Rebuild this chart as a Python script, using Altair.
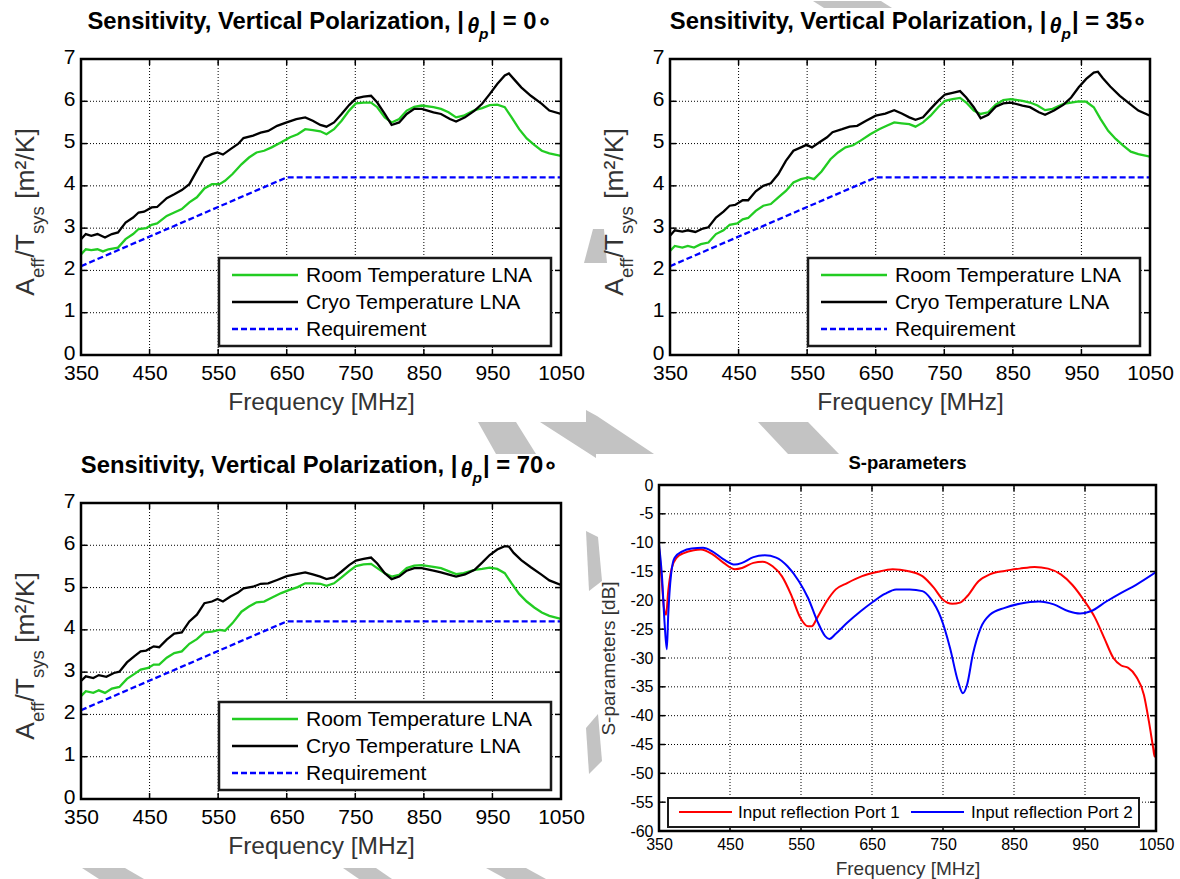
import altair as alt
import pandas as pd

FONT = "Liberation Sans"
TITLE_COLOR = "#333333"

# ---------------- data ----------------
FREQ_TICKS = [350, 450, 550, 650, 750, 850, 950, 1050]
SENS_TICKS = [0, 1, 2, 3, 4, 5, 6, 7]
SP_TICKS = [-60, -55, -50, -45, -40, -35, -30, -25, -20, -15, -10, -5, 0]

SENS_NAMES = ["Room Temperature LNA", "Cryo Temperature LNA", "Requirement"]
SENS_COLORS = ["#22cc22", "#000000", "#0000ff"]
SP_NAMES = ["Input reflection Port 1", "Input reflection Port 2"]
SP_COLORS = ["#ff0000", "#0000ff"]

REQUIREMENT = [(350, 2.1), (650, 4.2), (1050, 4.2)]

ROOM_0 = [(350, 2.38), (357, 2.50), (365, 2.48), (374, 2.50), (382, 2.45), (390, 2.50), (404, 2.54),
          (415, 2.74), (426, 2.86), (434, 2.98), (445, 3.00), (453, 3.08), (461, 3.11), (475, 3.29),
          (486, 3.37), (497, 3.45), (508, 3.61), (519, 3.73), (530, 3.94), (541, 4.04), (552, 4.04),
          (560, 4.12), (571, 4.28), (584, 4.51), (595, 4.67), (606, 4.79), (617, 4.83), (628, 4.91),
          (642, 5.03), (655, 5.15), (666, 5.22), (677, 5.34), (688, 5.32), (699, 5.29), (708, 5.22),
          (719, 5.34), (730, 5.54), (741, 5.78), (751, 5.95), (762, 5.97), (773, 5.97), (782, 5.86),
          (793, 5.62), (803, 5.50), (814, 5.58), (825, 5.78), (836, 5.87), (847, 5.90), (864, 5.86),
          (875, 5.82), (886, 5.74), (897, 5.62), (908, 5.66), (924, 5.79), (935, 5.84), (946, 5.91),
          (957, 5.92), (968, 5.86), (978, 5.62), (989, 5.34), (1000, 5.12), (1011, 4.97), (1022, 4.83),
          (1033, 4.77), (1050, 4.71)]
CRYO_0 = [(350, 2.74), (357, 2.86), (365, 2.82), (374, 2.86), (385, 2.78), (395, 2.86), (404, 2.90),
          (415, 3.13), (426, 3.25), (434, 3.37), (442, 3.39), (453, 3.49), (461, 3.50), (475, 3.71),
          (486, 3.80), (497, 3.90), (508, 4.04), (519, 4.36), (530, 4.67), (541, 4.75), (549, 4.79),
          (557, 4.74), (568, 4.87), (579, 4.99), (587, 5.13), (601, 5.19), (612, 5.26), (623, 5.30),
          (636, 5.42), (650, 5.50), (664, 5.58), (677, 5.62), (688, 5.54), (699, 5.44), (708, 5.40),
          (719, 5.50), (730, 5.70), (741, 5.91), (751, 6.07), (762, 6.11), (773, 6.13), (782, 5.97),
          (793, 5.70), (803, 5.44), (814, 5.50), (825, 5.70), (836, 5.82), (847, 5.82), (864, 5.74),
          (875, 5.70), (888, 5.58), (897, 5.52), (910, 5.62), (924, 5.78), (935, 5.94), (946, 6.17),
          (957, 6.41), (968, 6.61), (974, 6.66), (981, 6.53), (992, 6.33), (1006, 6.13), (1022, 5.94),
          (1033, 5.78), (1050, 5.70)]

ROOM_35 = [(350, 2.46), (357, 2.58), (368, 2.54), (376, 2.58), (385, 2.54), (395, 2.62), (406, 2.66),
           (417, 2.86), (428, 2.95), (437, 3.08), (448, 3.11), (456, 3.21), (464, 3.24), (475, 3.41),
           (486, 3.53), (497, 3.57), (508, 3.73), (519, 3.88), (530, 4.08), (541, 4.16), (552, 4.20),
           (560, 4.16), (571, 4.34), (584, 4.63), (595, 4.79), (606, 4.91), (617, 4.96), (628, 5.07),
           (642, 5.22), (655, 5.34), (666, 5.42), (677, 5.50), (688, 5.48), (699, 5.46), (708, 5.40),
           (719, 5.50), (730, 5.66), (741, 5.86), (751, 6.01), (762, 6.05), (773, 6.08), (782, 5.97),
           (793, 5.78), (803, 5.70), (814, 5.74), (825, 5.92), (836, 6.03), (847, 6.05), (864, 6.01),
           (875, 5.97), (886, 5.90), (897, 5.79), (908, 5.82), (924, 5.94), (935, 5.97), (946, 6.00),
           (957, 5.99), (968, 5.86), (978, 5.58), (989, 5.30), (1000, 5.11), (1011, 4.95), (1022, 4.81),
           (1033, 4.75), (1050, 4.69)]
CRYO_35 = [(350, 2.82), (357, 2.95), (368, 2.92), (376, 2.95), (387, 2.91), (398, 2.99), (406, 3.02),
           (417, 3.25), (428, 3.39), (437, 3.53), (445, 3.55), (456, 3.66), (464, 3.66), (475, 3.87),
           (486, 4.00), (497, 4.06), (508, 4.28), (519, 4.59), (530, 4.83), (541, 4.91), (549, 4.97),
           (557, 4.91), (568, 5.03), (579, 5.15), (587, 5.27), (601, 5.34), (612, 5.40), (623, 5.42),
           (636, 5.54), (650, 5.66), (664, 5.71), (677, 5.79), (688, 5.71), (699, 5.62), (708, 5.56),
           (719, 5.62), (730, 5.82), (741, 6.01), (751, 6.16), (762, 6.20), (773, 6.24), (782, 6.09),
           (793, 5.86), (803, 5.60), (814, 5.68), (825, 5.87), (836, 5.95), (847, 5.97), (864, 5.90),
           (875, 5.86), (888, 5.74), (897, 5.68), (910, 5.78), (924, 5.92), (935, 6.09), (946, 6.33),
           (957, 6.53), (968, 6.68), (974, 6.70), (981, 6.55), (992, 6.35), (1006, 6.13), (1022, 5.92),
           (1033, 5.78), (1050, 5.66)]

ROOM_70 = [(350, 2.43), (357, 2.55), (368, 2.51), (376, 2.57), (385, 2.51), (395, 2.61), (406, 2.65),
           (417, 2.84), (428, 2.96), (437, 3.06), (448, 3.10), (456, 3.18), (464, 3.18), (475, 3.34),
           (486, 3.45), (497, 3.49), (508, 3.67), (519, 3.78), (530, 3.94), (541, 3.96), (552, 4.00),
           (560, 3.98), (571, 4.16), (584, 4.43), (595, 4.55), (606, 4.65), (617, 4.67), (628, 4.76),
           (642, 4.87), (655, 4.95), (666, 5.01), (677, 5.10), (688, 5.10), (699, 5.09), (708, 5.04),
           (719, 5.10), (730, 5.24), (741, 5.39), (751, 5.51), (762, 5.55), (773, 5.56), (782, 5.46),
           (793, 5.34), (803, 5.26), (814, 5.30), (825, 5.46), (836, 5.52), (847, 5.53), (864, 5.49),
           (875, 5.46), (886, 5.39), (897, 5.32), (908, 5.34), (924, 5.42), (935, 5.44), (946, 5.47),
           (957, 5.44), (968, 5.34), (978, 5.10), (989, 4.85), (1000, 4.67), (1011, 4.53), (1022, 4.41),
           (1033, 4.33), (1050, 4.26)]
CRYO_70 = [(350, 2.79), (357, 2.90), (368, 2.86), (376, 2.93), (387, 2.89), (398, 2.98), (406, 3.01),
           (417, 3.23), (428, 3.38), (437, 3.49), (445, 3.51), (456, 3.61), (464, 3.59), (475, 3.77),
           (486, 3.91), (497, 3.94), (508, 4.20), (519, 4.36), (530, 4.63), (541, 4.67), (549, 4.73),
           (557, 4.67), (568, 4.79), (579, 4.88), (587, 4.98), (601, 5.02), (612, 5.09), (623, 5.10),
           (636, 5.18), (650, 5.27), (664, 5.32), (677, 5.36), (688, 5.31), (699, 5.26), (708, 5.20),
           (719, 5.24), (730, 5.38), (741, 5.53), (751, 5.64), (762, 5.68), (773, 5.71), (782, 5.57),
           (793, 5.34), (803, 5.20), (814, 5.26), (825, 5.40), (836, 5.46), (847, 5.46), (864, 5.40),
           (875, 5.36), (888, 5.30), (897, 5.26), (910, 5.31), (924, 5.42), (935, 5.59), (946, 5.77),
           (957, 5.90), (968, 5.98), (974, 5.97), (981, 5.82), (992, 5.65), (1006, 5.48), (1022, 5.30),
           (1033, 5.17), (1050, 5.06)]

PORT_1 = [(350, -10.9), (354, -16.7), (357, -21.3), (360, -22.5), (363, -18.4), (368, -14.4),
          (375, -12.6), (385, -11.8), (399, -11.3), (409, -11.2), (425, -12.0), (441, -13.5),
          (457, -14.6), (467, -14.4), (483, -13.5), (496, -13.3), (510, -14.1), (523, -15.8),
          (536, -19.0), (549, -23.0), (560, -24.5), (565, -24.5), (573, -23.0), (586, -20.2),
          (599, -18.1), (615, -17.0), (636, -15.8), (657, -15.1), (679, -14.6), (700, -14.9),
          (721, -15.8), (737, -17.8), (750, -19.9), (763, -20.6), (774, -20.4), (784, -19.3),
          (800, -16.7), (816, -15.5), (837, -14.9), (858, -14.5), (879, -14.2), (898, -14.5),
          (916, -15.5), (932, -17.3), (948, -19.9), (964, -23.0), (977, -26.5), (990, -30.0),
          (1001, -31.3), (1011, -31.7), (1022, -33.2), (1033, -36.4), (1040, -41.0), (1046, -45.6),
          (1048, -47.1), (1050, -45.0)]
PORT_2 = [(350, -10.3), (354, -15.5), (358, -24.2), (361, -28.5), (363, -22.5), (367, -15.5),
          (372, -12.6), (383, -11.5), (396, -11.0), (412, -10.9), (425, -11.5), (441, -12.9),
          (457, -13.8), (467, -13.5), (483, -12.5), (499, -12.2), (515, -12.6), (531, -14.1),
          (547, -16.7), (560, -19.6), (573, -23.6), (584, -26.2), (590, -26.7), (599, -25.8),
          (615, -23.9), (634, -21.9), (652, -20.2), (668, -18.9), (684, -18.1), (703, -18.1),
          (721, -18.4), (732, -19.6), (747, -23.0), (760, -28.3), (771, -34.0), (778, -36.1),
          (784, -34.6), (792, -29.4), (803, -24.8), (816, -22.5), (837, -21.3), (858, -20.6),
          (885, -20.2), (906, -20.7), (927, -21.9), (943, -22.3), (958, -21.9), (980, -20.2),
          (1001, -18.7), (1022, -17.3), (1050, -15.1)]

# light-grey background watermark shapes of the page (page pixel outlines)
WATERMARK = [
    [(81, 867), (124, 867), (143, 878), (98, 878)],
    [(342, 867), (375, 867), (391, 878), (358, 878)],
    [(485, 867), (525, 867), (545, 878), (505, 878)],
    [(477, 421), (515, 421), (535, 453), (495, 453)],
    [(539, 421), (585, 421), (585, 409), (596, 415), (605, 421), (653, 453), (595, 453), (595, 457)],
    [(757, 421), (807, 421), (838, 453), (787, 453)],
    [(583, 262), (592, 228), (603, 228), (606, 262)],
    [(585, 530), (597, 536), (601, 580), (588, 590)],
    [(585, 727), (597, 713), (601, 760), (588, 773)],
    [(812, 0), (880, 0), (891, 7), (823, 7)],
]

# ---------------- text helpers ----------------
REG_W = {' ': 278, '/': 278, '[': 278, ']': 278, 'A': 667, 'T': 611, 'K': 667, 'e': 556, 'f': 278,
         's': 500, 'y': 500, 'm': 833, '\u00b2': 333}
BOLD_W = {' ': 278, ',': 278, '|': 280, '=': 584, '-': 333, 'S': 667, 'V': 667, 'P': 667, 'e': 556,
          'n': 611, 's': 556, 'i': 278, 't': 333, 'v': 556, 'y': 556, 'r': 389, 'c': 556, 'a': 556,
          'l': 278, 'o': 611, 'z': 500, 'p': 611, 'm': 889, '\u03b8': 556, '\u2218': 500}


def tw(s, size, table):
    return sum(table.get(ch, 556) for ch in s) * size / 1000.0


ONE = pd.DataFrame({"k": [0]})


def txt(s, x, y, size, weight="normal", style="normal", angle=0, align="left",
        baseline="alphabetic", color="black"):
    return alt.Chart(ONE).mark_text(
        text=s, fontSize=size, fontWeight=weight, fontStyle=style, angle=angle,
        align=align, baseline=baseline, color=color, font=FONT
    ).encode(x=alt.value(x), y=alt.value(y))


def sens_title(deg, cx, y):
    size, th, sub = 23.8, 21.5, 15.5
    p1 = "Sensitivity, Vertical Polarization, |"
    p4 = "| = " + str(deg) + "\u2218"
    w1 = tw(p1, size, BOLD_W)
    w2 = tw("\u03b8", th, BOLD_W)
    w3 = tw("p", sub, BOLD_W) + 1
    w4 = tw(p4, size, BOLD_W)
    x0 = cx - (w1 + w2 + w3 + w4) / 2
    return [
        txt(p1, x0, y, size, "bold"),
        txt("\u03b8", x0 + w1, y + 4, th, "bold", "italic"),
        txt("p", x0 + w1 + w2, y + 10, sub, "bold", "italic"),
        txt(p4, x0 + w1 + w2 + w3, y, size, "bold"),
    ]


def sens_ytitle(xb, cy):
    main, sub = 26.5, 18.5
    pieces = [("A", main, 0, 0), ("eff", sub, 10, 0), ("/T", main, 0, 0), ("sys", sub, 10, 0),
              ("[m\u00b2/K]", main, 0, tw(" ", main, REG_W))]
    total = sum(tw(s, sz, REG_W) + g for s, sz, _, g in pieces)
    y = cy + total / 2
    out = []
    for s, sz, off, gap in pieces:
        y -= gap
        out.append(txt(s, xb + off, y, sz, angle=270, color=TITLE_COLOR))
        y -= tw(s, sz, REG_W)
    return out


def legend_layers(names, colors, dashes, box, rows, line_x, text_x, fsize, width, bw):
    x1, x2, y1, y2 = box
    out = [alt.Chart(ONE).mark_rect(fill="white", stroke="#1a1a1a", strokeWidth=bw).encode(
        x=alt.value(x1), x2=alt.value(x2), y=alt.value(y1), y2=alt.value(y2))]
    for name, col, dash, (rx, ry), tx in zip(names, colors, dashes, rows, text_x):
        kw = dict(color=col, strokeWidth=width)
        if dash:
            kw["strokeDash"] = dash
        out.append(alt.Chart(ONE).mark_rule(**kw).encode(
            x=alt.value(rx), x2=alt.value(rx + line_x), y=alt.value(ry)))
        out.append(txt(name, tx, ry + 1, fsize, baseline="middle"))
    return out


def line_layer(pairs, color, width, xenc, yenc, dash=None, interp="linear"):
    df = pd.DataFrame(pairs, columns=["f", "v"])
    kw = dict(color=color, strokeWidth=width, interpolate=interp, clip=True)
    if dash:
        kw["strokeDash"] = dash
    return alt.Chart(df).mark_line(**kw).encode(x=xenc, y=yenc)


def frame_layers(xenc, yenc, xt, yt, ox, oy, w, h):
    """dotted grid and inward ticks (MATLAB style)"""
    fx = pd.DataFrame({"f": xt})
    fy = pd.DataFrame({"v": yt})
    grid = dict(color="black", strokeWidth=1, strokeDash=[1, 2])
    tick = dict(color="black", strokeWidth=1.5)
    return [
        alt.Chart(fx).mark_rule(**grid).encode(x=xenc, y=alt.value(oy), y2=alt.value(oy + h)),
        alt.Chart(fy).mark_rule(**grid).encode(y=yenc, x=alt.value(ox), x2=alt.value(ox + w)),
        alt.Chart(fx).mark_rule(**tick).encode(x=xenc, y=alt.value(oy + h - 6), y2=alt.value(oy + h)),
        alt.Chart(fx).mark_rule(**tick).encode(x=xenc, y=alt.value(oy), y2=alt.value(oy + 6)),
        alt.Chart(fy).mark_rule(**tick).encode(y=yenc, x=alt.value(ox), x2=alt.value(ox + 6)),
        alt.Chart(fy).mark_rule(**tick).encode(y=yenc, x=alt.value(ox + w - 6), x2=alt.value(ox + w)),
    ]


def box_layer(ox, oy, w, h, fill):
    if fill:
        return alt.Chart(ONE).mark_rect(fill="white").encode(
            x=alt.value(ox), x2=alt.value(ox + w), y=alt.value(oy), y2=alt.value(oy + h))
    return alt.Chart(ONE).mark_rect(filled=False, stroke="black", strokeWidth=2.5).encode(
        x=alt.value(ox), x2=alt.value(ox + w), y=alt.value(oy), y2=alt.value(oy + h))


# ---------------- sensitivity panels ----------------
SW, SH = 480, 296


def sens_panel(deg, room, cryo, ox=0, oy=0):
    xenc = alt.X("f:Q", scale=alt.Scale(domain=[350, 1050], nice=False, zero=False, range=[ox, ox + SW]),
                 axis=alt.Axis(values=FREQ_TICKS, title="Frequency [MHz]", labelFontSize=21, grid=False,
                               titleFontSize=24.5, labelPadding=7, titlePadding=7, format="d"))
    yenc = alt.Y("v:Q", scale=alt.Scale(domain=[0, 7], nice=False, range=[oy + SH, oy]),
                 axis=alt.Axis(values=SENS_TICKS, title=None, labelFontSize=21, labelPadding=6,
                               labelOffset=-2, format="d", grid=False, offset=-ox))
    layers = [box_layer(ox, oy, SW, SH, True)]
    layers += frame_layers(xenc, yenc, FREQ_TICKS, SENS_TICKS, ox, oy, SW, SH)
    layers += [
        line_layer(room, SENS_COLORS[0], 2.3, xenc, yenc),
        line_layer(cryo, SENS_COLORS[1], 2.3, xenc, yenc),
        line_layer(REQUIREMENT, SENS_COLORS[2], 2.3, xenc, yenc, dash=[6, 3]),
    ]
    layers += legend_layers(SENS_NAMES, SENS_COLORS, [None, None, [6, 3]],
                            (ox + 138, ox + 470, oy + 199, oy + 287),
                            [(ox + 151, oy + 216), (ox + 151, oy + 243), (ox + 151, oy + 270)],
                            66, [ox + 225] * 3, 21, 2.3, 2.5)
    layers.append(box_layer(ox, oy, SW, SH, False))
    layers += sens_title(deg, ox + SW / 2 - 3, oy - 30)
    layers += sens_ytitle(ox - 47, oy + 153)
    return alt.layer(*layers).properties(
        width=SW + ox, height=SH + oy,
        view=alt.ViewBackground(stroke="transparent", fill="transparent"))


def watermark_layer(origin_x, origin_y):
    rows = []
    for i, poly in enumerate(WATERMARK):
        for k, (px, py) in enumerate(poly):
            rows.append({"sid": i, "k": k, "px": px - origin_x, "py": py - origin_y})
    df = pd.DataFrame(rows)
    shapes = alt.Chart(df).mark_line(fill="#c3c3c3", stroke="#c3c3c3", strokeWidth=0).encode(
        x=alt.X("px:Q", scale=None, axis=None), y=alt.Y("py:Q", scale=None, axis=None),
        detail="sid:N", order="k:Q")
    # white hairline at the page's top-left corner so the page origin is kept
    anchor = alt.Chart(ONE).mark_rule(color="white", strokeWidth=0.5).encode(
        x=alt.value(-origin_x + 0.25), x2=alt.value(-origin_x + 1), y=alt.value(-origin_y + 0.25))
    return alt.layer(anchor, shapes)


# ---------------- S-parameter panel ----------------
PW, PH = 497, 346


def sparam_panel():
    xenc = alt.X("f:Q", scale=alt.Scale(domain=[350, 1050], nice=False, zero=False),
                 axis=alt.Axis(values=FREQ_TICKS, title="Frequency [MHz]", labelFontSize=16, grid=False,
                               titleFontSize=19, labelPadding=5, titlePadding=7, format="d"))
    yenc = alt.Y("v:Q", scale=alt.Scale(domain=[-60, 0], nice=False),
                 axis=alt.Axis(values=SP_TICKS, title="S-parameters [dB]", labelFontSize=16, grid=False,
                               titleFontSize=19, labelPadding=6, titlePadding=11,
                               labelExpr="datum.value + ''"))
    layers = [box_layer(0, 0, PW, PH, True)]
    layers += frame_layers(xenc, yenc, FREQ_TICKS, SP_TICKS, 0, 0, PW, PH)
    layers += [
        line_layer(PORT_1, SP_COLORS[0], 2, xenc, yenc, interp="monotone"),
        line_layer(PORT_2, SP_COLORS[1], 2, xenc, yenc, interp="monotone"),
    ]
    layers += legend_layers(SP_NAMES, SP_COLORS, [None, None],
                            (9, 480, 313, 342), [(20, 327), (252, 327)],
                            53, [79, 312], 17, 2, 2)
    layers.append(box_layer(0, 0, PW, PH, False))
    layers.append(txt("S-parameters", PW / 2, -16, 18.5, "bold", align="center"))
    return alt.layer(*layers).properties(
        width=PW, height=PH, view=alt.ViewBackground(stroke="transparent", fill="transparent"))


p0 = alt.layer(watermark_layer(80, 58), sens_panel(0, ROOM_0, CRYO_0)).resolve_scale(
    x="independent", y="independent")
p35 = sens_panel(35, ROOM_35, CRYO_35, ox=11)
p70 = sens_panel(70, ROOM_70, CRYO_70, oy=18)
psp = sparam_panel()

chart = alt.concat(
    p0, p35, p70, psp, columns=2, bounds="flush",
    spacing={"row": 130, "column": 98},
).properties(
    padding={"left": 0, "top": 0, "right": 2, "bottom": 0},
    background="white",
).configure_axis(
    domain=False, ticks=False, labelColor="black", labelFont=FONT, titleFont=FONT,
    titleFontWeight="normal", titleColor=TITLE_COLOR, labelFlush=False, labelOverlap=False,
)

chart.save("out.html", embed_options={"renderer": "svg", "actions": False})
